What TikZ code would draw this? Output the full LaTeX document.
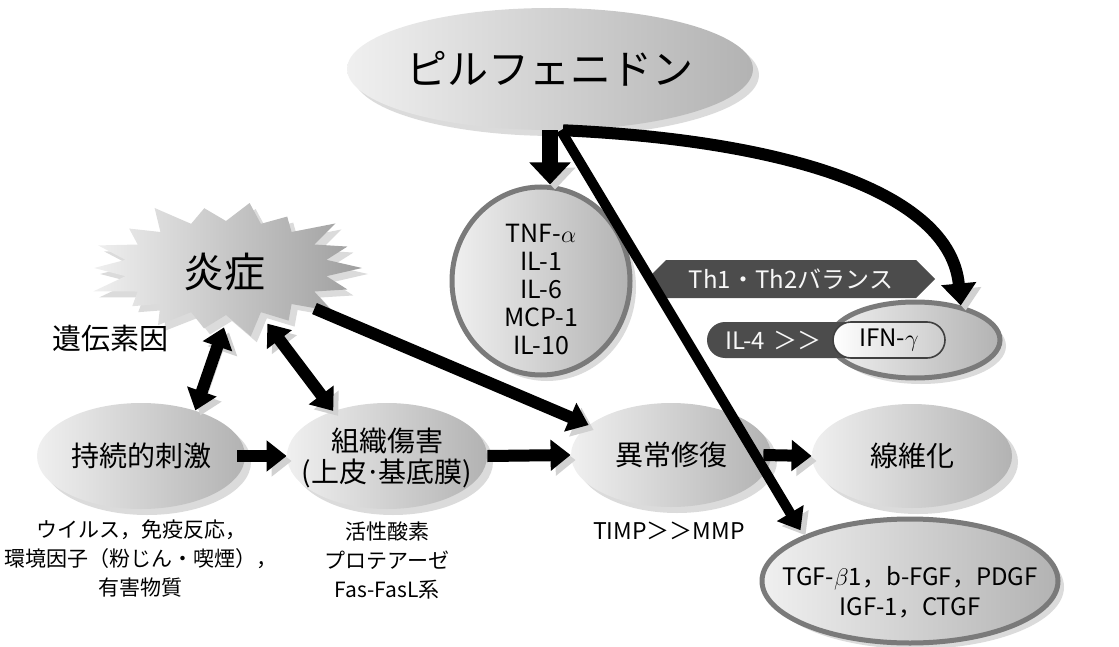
\documentclass[tikz,border=0pt]{standalone}
\usepackage{fontspec}
\setmainfont{Noto Sans CJK JP}
\usetikzlibrary{shapes.geometric,shapes.symbols,arrows.meta,shadows,calc}
\begin{document}
\begin{tikzpicture}[x=0.5pt,y=-0.5pt,
  shad/.style={general shadow={fill=black!14, shadow xshift=3pt, shadow yshift=-3pt}},
  bubble/.style={ellipse, inner sep=0pt, shad, left color=black!6, middle color=black!12, right color=black!30},
  ringed/.style={bubble, draw=black!52, line width=2.5pt},
  ashadow/.style={preaction={draw=black!18, transform canvas={shift={(2.5pt,-2.5pt)}}}},
  big/.style={ashadow, draw=black, line width=6pt, -{Triangle[length=10pt,width=15pt]}},
  dbl/.style={ashadow, draw=black, line width=6pt, {Triangle[length=10pt,width=15pt]}-{Triangle[length=10pt,width=15pt]}},
  darkbox/.style={fill=black!70, text=black!3},
  mainfont/.style={font=\fontsize{14}{15.5}\selectfont},
  subfont/.style={font=\fontsize{10.5}{14.5}\selectfont, align=center},
  latfont/.style={font=\fontsize{12}{14}\selectfont}
]
\useasboundingbox (0,0) rectangle (1119,647);

% starburst
\path[shad, left color=black!6, right color=black!38]
  ({226+136},268)
  \foreach \a/\f in {20/0.95,40/1.05,60/0.9,80/1.0,100/0.92,120/1.05,140/0.93,160/1.0,180/0.97,200/1.04,220/0.9,240/1.0,260/0.93,280/1.05,300/0.92,320/1.02,340/0.95,360/1}
  { -- ({226+102*cos(\a-10)},{268-47*sin(\a-10)}) -- ({226+136*\f*cos(\a)},{268-66*\f*sin(\a)}) } -- cycle;
\node[ellipse, minimum width=120pt, minimum height=55pt, inner sep=0pt, font=\fontsize{20.5}{24}\selectfont] (inflam) at (224,272) {炎症};

\node[font=\fontsize{14.5}{17}\selectfont] (gen) at (111,338) {遺伝素因};

% top
\node[bubble, minimum width=173pt, minimum height=61pt, font=\fontsize{20.5}{24}\selectfont] (pf) at (550,69) {ピルフェニドン};

\node[ringed, minimum width=89pt, minimum height=94pt] (cyt) at (541,281) {};
\node[font=\fontsize{12.5}{14}\selectfont, align=center] (cyttext) at (541,289) {TNF-$\alpha$\\IL-1\\IL-6\\MCP-1\\IL-10};

% Th1/Th2
\node[signal, signal to=east and west, darkbox, minimum width=144pt, minimum height=19pt, inner sep=2pt, latfont] (th) at (791,279) {Th1・Th2バランス};

\node[ringed, minimum width=85pt, minimum height=38pt] (ifn) at (915,340) {};
\node[darkbox, rounded corners=9pt, minimum height=18pt, text width=68pt, inner xsep=9pt, align=left, latfont] (il4) at (793,340) {IL-4 ＞＞};
\node[rounded corners=9pt, draw=black!75, line width=0.8pt, left color=white, right color=black!20, minimum width=56pt, minimum height=18pt, latfont] (gamma) at (889,340) {IFN-$\gamma$};

% bottom row
\node[bubble, minimum width=104pt, minimum height=53pt, mainfont] (stim) at (141,456) {持続的刺激};
\node[bubble, minimum width=100pt, minimum height=53pt] (tis) at (387,456) {};
\node[mainfont, align=center] (tistitle) at (387,458) {組織傷害\\(上皮{\kern-1pt}·{\kern-1pt}基底膜)};
\node[bubble, minimum width=100pt, minimum height=52pt, mainfont] (rep) at (671,455) {異常修復};
\node[bubble, minimum width=100pt, minimum height=52pt, mainfont] (fib) at (912,456) {線維化};

\node[ringed, minimum width=148pt, minimum height=62pt] (tgf) at (910,581) {};
\node[font=\fontsize{12}{15}\selectfont, align=center] (tgftext) at (910,592) {TGF-$\beta$1，b-FGF，PDGF\\IGF-1，CTGF};

\node[subfont] (stimtxt) at (141,559) {ウイルス，免疫反応，\\環境因子（粉じん・喫煙），\\有害物質};
\node[subfont] (tistxt) at (387,560) {活性酸素\\プロテアーゼ\\Fas-FasL系};
\node[font=\fontsize{11.5}{14}\selectfont] (timp) at (669,531) {TIMP＞＞MMP};

% arrows
\draw[big, line width=8pt, -{Triangle[length=11pt,width=20pt]}] (pf.south) -- (cyt.north -| pf.south);
\draw[ashadow, draw=black, line width=6pt, -{Triangle[length=11pt,width=17pt]}] (pf.282) .. controls (780,140) and (950,190) .. (ifn.37);
\draw[big, line width=5pt, shorten >=3pt] (pf.280) -- (tgf.north west);
\draw[big] (inflam.-22) -- (rep.160);
\draw[dbl] (inflam.south) -- (stim.40);
\draw[dbl] (inflam.-50) -- (tis.140);
\draw[big] ([xshift=-4pt]stim.east) -- (tis.west);
\draw[big] (tis.east) -- (rep.west);
\draw[big] ([xshift=-4pt]rep.east) -- (fib.west);
\end{tikzpicture}
\end{document}
